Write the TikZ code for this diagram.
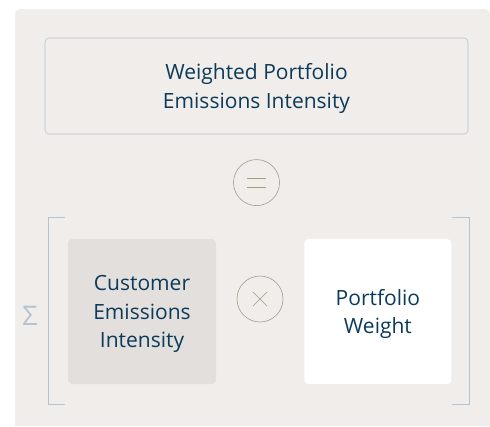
\documentclass[tikz,border=0pt]{standalone}
\usepackage{fontspec}
\setmainfont{Open Sans}
\usetikzlibrary{positioning}
\definecolor{bgtone}{HTML}{F0EDEA}
\definecolor{boxgrey}{HTML}{E2DFDC}
\definecolor{inkblue}{HTML}{0C3B5A}
\definecolor{frameblue}{HTML}{B3C5D2}
\definecolor{circtone}{HTML}{A89888}
\tikzstyle{panel}=[rectangle,rounded corners=4pt,align=center,text=inkblue,inner sep=0pt,text depth=0pt,font=\fontsize{21}{28.5}\selectfont]
\tikzstyle{opcircle}=[circle,draw=circtone,semithick,inner sep=0pt,minimum size=46pt]
\tikzstyle{opsign}=[draw=circtone,semithick]
\tikzstyle{bracket}=[draw=frameblue,semithick]

\begin{document}
\begin{tikzpicture}[x=1pt,y=1pt]

    % Rahmen
    \useasboundingbox (0,0) rectangle (490,-426);
    \fill[bgtone] (15,-426) [rounded corners=5pt] -- (15,-9) -- (490,-9) [sharp corners] -- (490,-426) -- cycle;

    % Knoten
    \node[panel, draw=frameblue, semithick, minimum width=423pt, minimum height=96pt] (total) at (256.5,-86) {Weighted Portfolio\\Emissions Intensity};
    \node[opcircle] (eq) [below=25pt of total] {};
    \node[panel, fill=boxgrey, minimum width=148pt, minimum height=145pt] (cust) at (142,-311.5) {Customer\\Emissions\\Intensity};
    \node[panel, fill=white, minimum width=147pt, minimum height=145pt] (weight) [right=88pt of cust] {Portfolio\\Weight};
    \node[opcircle] (times) at (260,-299) {};
    \node[text=frameblue, font=\fontsize{27}{27}\selectfont] (sum) at (30,-316) {Σ};

    % Zeichen
    \draw[opsign] ([xshift=-9.5pt,yshift=4.5pt]eq.center) -- ++(19,0);
    \draw[opsign] ([xshift=-9.5pt,yshift=-4.5pt]eq.center) -- ++(19,0);
    \draw[opsign] ([xshift=-7pt,yshift=-7pt]times.center) -- ++(14,14);
    \draw[opsign] ([xshift=-7pt,yshift=7pt]times.center) -- ++(14,-14);

    % Klammern
    \coordinate (ltop) at (65,-217);
    \coordinate (lbot) at (65,-404);
    \coordinate (rtop) at (452,-217);
    \coordinate (rbot) at (452,-404);
    \draw[bracket] (ltop) -- ++(-17,0) |- (lbot);
    \draw[bracket] (rtop) -- ++(17,0) |- (rbot);

\end{tikzpicture}
\end{document}
